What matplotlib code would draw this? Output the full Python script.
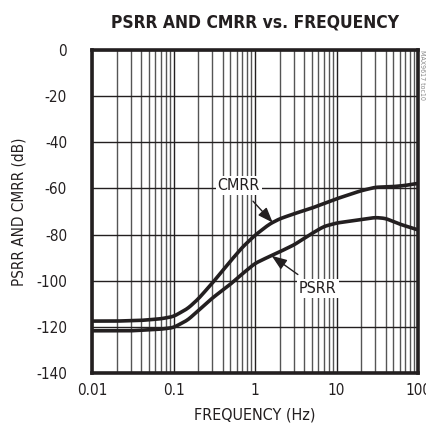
import matplotlib
matplotlib.use("Agg")
import matplotlib.pyplot as plt
import numpy as np
from matplotlib import font_manager
from matplotlib.font_manager import FontProperties

def find_font(keys):
    for k in keys:
        for f in font_manager.fontManager.ttflist:
            if k.lower() in f.fname.lower().replace('-', '').replace('_', ''):
                return f.fname
    return None

reg_path = find_font(['LiberationSansNarrowRegular', 'DejaVuSansCondensed.ttf', 'SansCondensed.ttf'])
bold_path = find_font(['LiberationSansNarrowBold.', 'DejaVuSansCondensedBold', 'SansCondensedBold'])

def fp(size, bold=False):
    path = bold_path if bold else reg_path
    if path:
        return FontProperties(fname=path, size=size)
    return FontProperties(family='DejaVu Sans', size=size, weight='bold' if bold else 'normal')

cmrr_f = [0.01, 0.02, 0.04, 0.07, 0.1, 0.15, 0.2, 0.3, 0.5, 0.7, 1, 1.5, 2, 3, 5, 10, 20, 30, 50, 70, 100]
cmrr_db = [-117.5, -117.5, -117.2, -116.5, -115.5, -112, -108, -101, -91.5, -85.5, -80.3, -75.5, -73.2, -71, -68.5, -64.5, -61, -59.5, -59.2, -58.7, -57.8]

psrr_f = [0.01, 0.03, 0.07, 0.1, 0.15, 0.2, 0.3, 0.5, 0.7, 1, 1.5, 2, 3, 5, 7, 10, 20, 30, 40, 60, 100]
psrr_db = [-121.7, -121.7, -121, -120.3, -117, -113, -107.5, -101.5, -97, -92.5, -89.5, -87.5, -84.5, -79.5, -76.5, -75, -73.5, -72.6, -73, -75.5, -78]

xticks = [0.01, 0.1, 1, 10, 100]
xticklabels = ['0.01', '0.1', '1', '10', '100']
yticks = [0, -20, -40, -60, -80, -100, -120, -140]
yticklabels = ['0', '-20', '-40', '-60', '-80', '-100', '-120', '-140']

fig = plt.figure(figsize=(4.26, 4.32), dpi=100)
ax = fig.add_axes([92/426, 1-373/432, 326/426, 323/432])

def smooth(fx, dy):
    lx = np.log10(fx)
    xs = np.linspace(lx[0], lx[-1], 400)
    ys = np.interp(xs, lx, dy)
    k = 9
    ker = np.ones(k)/k
    ypad = np.concatenate([np.full(k//2, ys[0]), ys, np.full(k//2, ys[-1])])
    ys = np.convolve(ypad, ker, mode='valid')
    return 10**xs, ys

x1, y1 = smooth(np.array(cmrr_f), np.array(cmrr_db))
x2, y2 = smooth(np.array(psrr_f), np.array(psrr_db))
ax.plot(x1, y1, color='#231f20', lw=2.6, zorder=3, solid_capstyle='butt')
ax.plot(x2, y2, color='#231f20', lw=2.6, zorder=3, solid_capstyle='butt')

ax.set_xscale('log')
ax.set_xlim(0.01, 100)
ax.set_ylim(-140, 0)
ax.set_xticks(xticks)
ax.set_xticklabels(xticklabels)
ax.set_yticks(yticks)
ax.set_yticklabels(yticklabels)
ax.xaxis.set_minor_locator(matplotlib.ticker.LogLocator(base=10, subs=np.arange(2, 10)))
ax.xaxis.set_minor_formatter(matplotlib.ticker.NullFormatter())
ax.grid(True, which='major', axis='both', color='#231f20', lw=1.0)
ax.grid(True, which='minor', axis='x', color='#555555', lw=1.0)
ax.tick_params(which='both', length=0, colors='#231f20')
ax.tick_params(axis='x', pad=7)
ax.tick_params(axis='y', pad=18)
tick_fp = fp(11)
for lab in ax.get_xticklabels() + ax.get_yticklabels():
    lab.set_fontproperties(tick_fp)
for s in ax.spines.values():
    s.set_linewidth(2.6)
    s.set_color('#231f20')

ax.annotate('CMRR', xy=(1.65, -74.8), xytext=(0.63, -58.8),
            ha='center', va='center', fontproperties=fp(11.5), color='#231f20',
            bbox=dict(boxstyle='square,pad=0.12', fc='white', ec='none'),
            arrowprops=dict(arrowstyle='-|>,head_length=0.8,head_width=0.3', color='#231f20', lw=1.0,
                            shrinkA=6, shrinkB=0), zorder=5)
ax.annotate('PSRR', xy=(1.6, -89.2), xytext=(5.9, -103.5),
            ha='center', va='center', fontproperties=fp(11.5), color='#231f20',
            bbox=dict(boxstyle='square,pad=0.12', fc='white', ec='none'),
            arrowprops=dict(arrowstyle='-|>,head_length=0.8,head_width=0.3', color='#231f20', lw=1.0,
                            shrinkA=6, shrinkB=0), zorder=5)

ax.set_xlabel('FREQUENCY (Hz)', fontproperties=fp(11.5), color='#231f20', labelpad=7)
ax.set_ylabel('PSRR AND CMRR (dB)', fontproperties=fp(11), color='#231f20', labelpad=7)
fig.text(255/426, 1-22/432, 'PSRR AND CMRR vs. FREQUENCY', ha='center', va='center',
         fontproperties=fp(12.5, bold=True), color='#231f20')
fig.text(422/426, 1-75/432, 'MAX9617 toc10', rotation=-90, ha='center', va='center',
         fontproperties=fp(5), color='#888888')

fig.savefig('out.png', dpi=100)
